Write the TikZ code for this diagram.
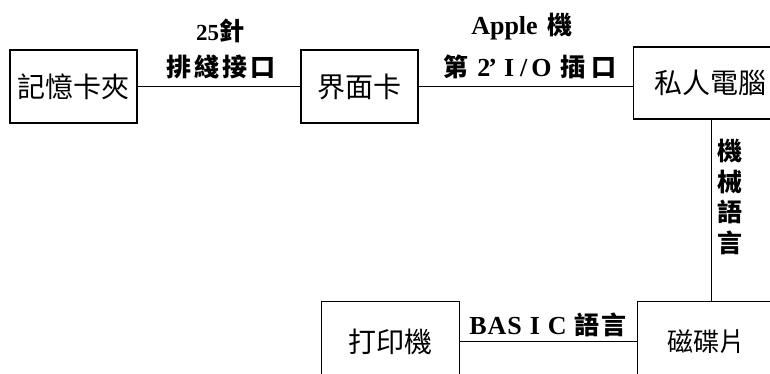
\documentclass[tikz,border=0pt]{standalone}
\usepackage{fontspec}
\setmainfont{Liberation Serif}
\newfontfamily\cjk{Noto Sans CJK TC}
\newcommand{\lc}[1]{{\cjk\fontsize{25}{28}\selectfont #1}}
\begin{document}
\begin{tikzpicture}[x=1pt,y=-1pt,
  box/.style={draw=black,line width=1.3pt,inner sep=0pt,font=\cjk\fontsize{28}{32}\selectfont},
  lbl/.style={inner sep=0pt,font=\fontsize{26}{30}\selectfont\bfseries},
  wire/.style={line width=1.3pt}]
\useasboundingbox (0,0) rectangle (770,374);
\clip (0,0) rectangle (770,374);
\fill[white] (0,0) rectangle (770,374);
\node[box,minimum width=127pt,minimum height=73pt] (mem) at (73.5,86.5) {記憶卡夾};
\node[box,minimum width=117pt,minimum height=73pt] (if) at (359.5,86.5) {界面卡};
\node[box,minimum height=72pt,text width=160pt,align=left,inner xsep=21pt,anchor=west] (pc) at (633,83) {私人電腦};
\node[box,minimum height=80pt,text width=120pt,align=left,inner xsep=30pt,anchor=north west,font=\cjk\fontsize{26}{30}\selectfont] (disk) at (637,301) {磁碟片};
\node[box,minimum width=138pt,minimum height=80pt,anchor=north west] (pr) at (321,301) {打印機};
\coordinate (v) at (711.5,0);
\draw[wire] (mem.east) -- (if.west);
\draw[wire] (if.east) -- (if.east -| pc.west);
\draw[wire] (pc.south -| v) -- (disk.north -| v);
\draw[wire] (pr.east) -- (pr.east -| disk.west);
\node[lbl] (l1) at (220,31) {{\fontsize{23}{26}\selectfont 25}\lc{針}};
\node[lbl] (l2) at (221,67) {\lc{排\hspace{3pt}綫\hspace{3pt}接\hspace{3pt}口}};
\node[lbl] (l3) at (522,27) {Apple\hspace{10pt}\lc{機}};
\node[lbl] (l4) at (530,67) {\lc{第}\hspace{9pt}2\kern-2pt’\hspace{7pt}I\hspace{6pt}/\hspace{4pt}O\hspace{9pt}\lc{插\hspace{6pt}口}};
\node[lbl] (l5) at (548,325) {B\hspace{1pt}A\hspace{1pt}S\hspace{8pt}I\hspace{8pt}C\hspace{8pt}\lc{語\hspace{2pt}言}};
\node[lbl,align=center,font=\cjk\bfseries\fontsize{25}{30.5}\selectfont] (l6) at (730,197) {機\\械\\語\\言};
\end{tikzpicture}
\end{document}
